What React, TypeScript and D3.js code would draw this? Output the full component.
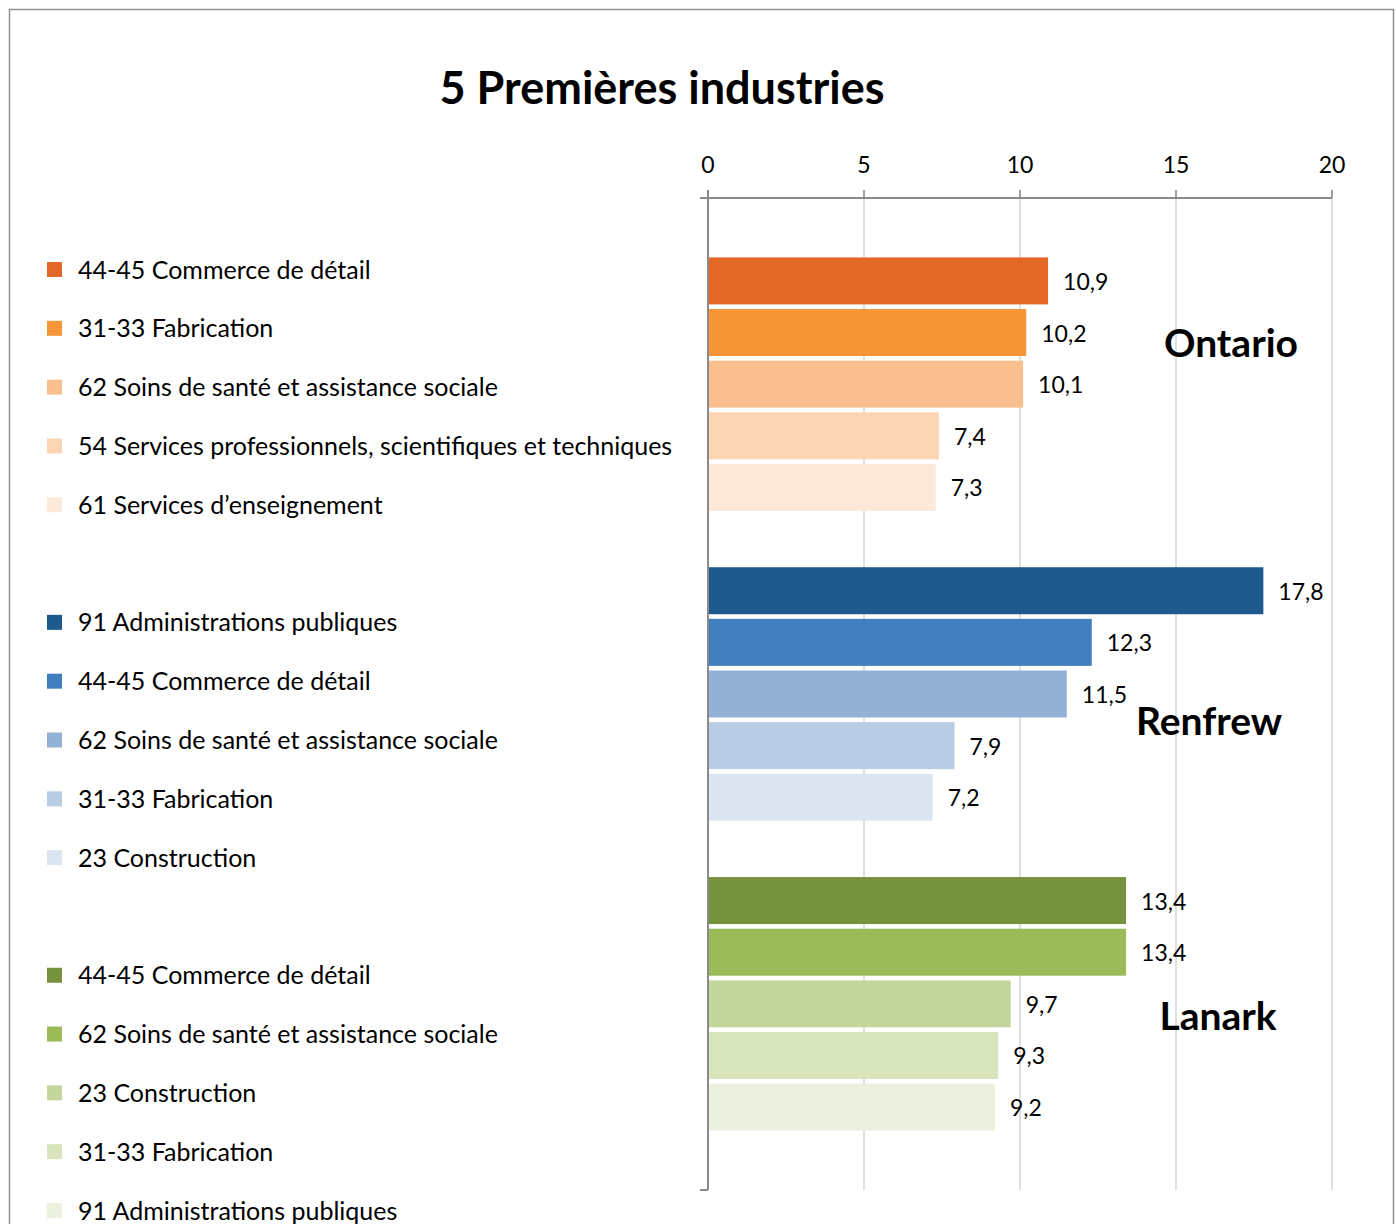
import React from "react";
import * as d3 from "d3";

const groups = ["Ontario", "Renfrew", "Lanark"];

const ontarioLabels = [
  "44-45 Commerce de détail",
  "31-33 Fabrication",
  "62 Soins de santé et assistance sociale",
  "54 Services professionnels, scientifiques et techniques",
  "61 Services d’enseignement",
];
const ontarioValues = [10.9, 10.2, 10.1, 7.4, 7.3];
const ontarioColors = ["#E36727", "#F79539", "#FABF8F", "#FCD5B4", "#FDE9D9"];

const renfrewLabels = [
  "91 Administrations publiques",
  "44-45 Commerce de détail",
  "62 Soins de santé et assistance sociale",
  "31-33 Fabrication",
  "23 Construction",
];
const renfrewValues = [17.8, 12.3, 11.5, 7.9, 7.2];
const renfrewColors = ["#1F5A8E", "#417EBD", "#93B1D7", "#B8CCE4", "#DBE5F1"];

const lanarkLabels = [
  "44-45 Commerce de détail",
  "62 Soins de santé et assistance sociale",
  "23 Construction",
  "31-33 Fabrication",
  "91 Administrations publiques",
];
const lanarkValues = [13.4, 13.4, 9.7, 9.3, 9.2];
const lanarkColors = ["#76923C", "#9BBB59", "#C3D69B", "#D7E4BC", "#EBF1DE"];

const xTicks = [0, 5, 10, 15, 20];
const title = "5 Premières industries";

const FONT = "Lato, 'Open Sans', sans-serif";

type Row = { key: string; group: string; label: string; value: number; color: string; slot: number };

export default function App() {
  const W = 1396;
  const H = 1224;
  const plotLeft = 708;
  const plotRight = 1332;
  const plotTop = 198;
  const plotBottom = 1190;

  const sets = [
    { labels: ontarioLabels, values: ontarioValues, colors: ontarioColors },
    { labels: renfrewLabels, values: renfrewValues, colors: renfrewColors },
    { labels: lanarkLabels, values: lanarkValues, colors: lanarkColors },
  ];

  const rows: Row[] = [];
  sets.forEach((s, gi) => {
    s.values.forEach((v, i) => {
      rows.push({
        key: `${groups[gi]}-${i}`,
        group: groups[gi],
        label: s.labels[i],
        value: v,
        color: s.colors[i],
        slot: gi * 6 + i,
      });
    });
  });

  const slots = d3.range(17).map(String);
  const x = d3.scaleLinear().domain([0, 20]).range([plotLeft, plotRight]);
  const y = d3
    .scaleBand<string>()
    .domain(slots)
    .range([plotTop, plotBottom])
    .paddingInner(0.09)
    .paddingOuter(1.15);

  const legendY = d3.scalePoint<string>().domain(slots).range([270, 1211]);

  const fmt = (v: number) => d3.format(".1f")(v).replace(".", ",");

  const groupLabelPos: Record<string, { x: number; slot: number; dy: number }> = {
    Ontario: { x: 1231, slot: 1, dy: 1 },
    Renfrew: { x: 1209, slot: 8, dy: 18 },
    Lanark: { x: 1218, slot: 14, dy: 3 },
  };

  return (
    <svg
      width={W}
      height={H}
      style={{ position: "absolute", left: 0, top: 0, display: "block", background: "#fff" }}
      fontFamily={FONT}
    >
      <rect x={9.5} y={9.5} width={1384} height={1240} fill="#fff" stroke="#8f8f8f" strokeWidth={1.5} />

      <text x={662} y={104} textAnchor="middle" fontSize={45} fontWeight={700} fill="#000">
        {title}
      </text>

      {/* gridlines */}
      {xTicks.map((t) => (
        <line
          key={"g" + t}
          x1={x(t)}
          x2={x(t)}
          y1={plotTop - 8}
          y2={plotBottom}
          stroke={t === 0 ? "#8a8a8a" : "#d4d4d4"}
          strokeWidth={t === 0 ? 2 : 1.5}
        />
      ))}
      {/* top axis line */}
      <line x1={plotLeft - 8} x2={plotRight} y1={plotTop} y2={plotTop} stroke="#8a8a8a" strokeWidth={2} />
      {xTicks.map((t) => (
        <line key={"tk" + t} x1={x(t)} x2={x(t)} y1={plotTop - 8} y2={plotTop} stroke="#8a8a8a" strokeWidth={1.5} />
      ))}
      <line x1={plotLeft - 8} x2={plotLeft} y1={plotBottom} y2={plotBottom} stroke="#8a8a8a" strokeWidth={2} />
      {xTicks.map((t) => (
        <text key={"tl" + t} x={x(t)} y={173} textAnchor="middle" fontSize={23} fill="#000">
          {t}
        </text>
      ))}

      {/* bars */}
      {rows.map((r) => (
        <g key={r.key}>
          <rect
            x={x(0) + 1}
            y={y(String(r.slot))}
            width={x(r.value) - x(0) - 1}
            height={y.bandwidth()}
            fill={r.color}
          />
          <text
            x={x(r.value) + 15}
            y={(y(String(r.slot)) as number) + y.bandwidth() / 2 + 9}
            fontSize={23}
            fill="#000"
          >
            {fmt(r.value)}
          </text>
        </g>
      ))}

      {/* group labels */}
      {groups.map((g) => {
        const p = groupLabelPos[g];
        const yy = (y(String(p.slot)) as number) + y.bandwidth() + p.dy;
        return (
          <text key={g} x={p.x} y={yy} textAnchor="middle" fontSize={39} fontWeight={700} fill="#000">
            {g}
          </text>
        );
      })}

      {/* legend */}
      {rows.map((r) => {
        const ly = legendY(String(r.slot)) as number;
        return (
          <g key={"lg" + r.key}>
            <rect x={47} y={ly - 8} width={15} height={15} fill={r.color} />
            <text x={78} y={ly + 8.5} fontSize={25} fill="#000">
              {r.label}
            </text>
          </g>
        );
      })}
    </svg>
  );
}
